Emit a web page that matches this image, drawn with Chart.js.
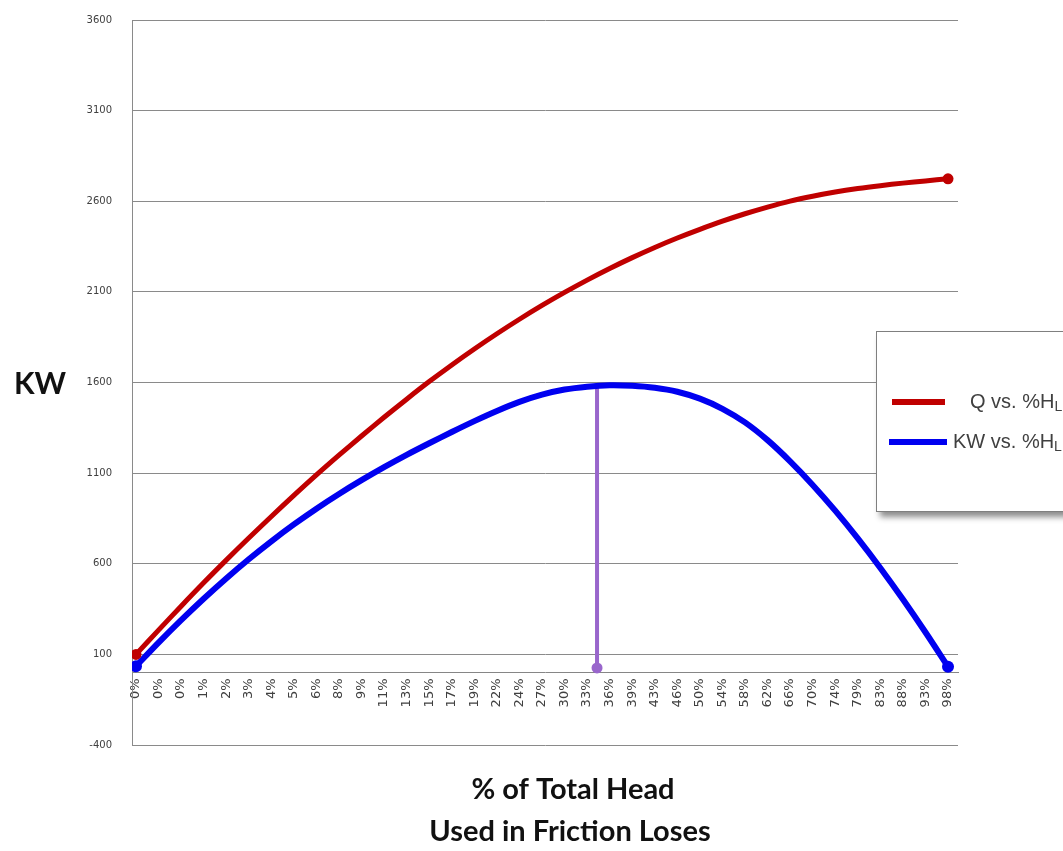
<!DOCTYPE html>
<html>
<head>
<meta charset="utf-8">
<script src="https://cdn.jsdelivr.net/npm/chart.js@4.4.1/dist/chart.umd.min.js"></script>
<style>
  html, body { margin: 0; padding: 0; background: #ffffff; }
  #wrap { width: 1063px; height: 851px; position: relative; }
</style>
</head>
<body>
<div id="wrap"><canvas id="pumpChart" width="1063" height="851"></canvas></div>
<script>
// Share of the total head lost to friction (category labels along the bottom)
const headLabels = ['0%','0%','0%','1%','2%','3%','4%','5%','6%','8%','9%','11%','13%','15%','17%','19%',
  '22%','24%','27%','30%','33%','36%','39%','43%','46%','50%','54%','58%','62%','66%','70%','74%',
  '79%','83%','88%','93%','98%'];

// Flow Q against %HL
const flowQ = [100, 234, 366, 495, 620, 742, 861, 977, 1090, 1199, 1305, 1408, 1508, 1605, 1697, 1785,
  1869, 1949, 2025, 2097, 2165, 2229, 2289, 2345, 2397, 2445, 2490, 2531, 2568, 2601, 2628, 2651,
  2670, 2686, 2700, 2712, 2724];

// Power KW against %HL
const powerKW = [35, 165, 289, 407, 519, 625, 724, 817, 904, 985, 1061, 1133, 1201, 1265, 1327, 1387,
  1443, 1493, 1533, 1561, 1577, 1585, 1582, 1571, 1549, 1511, 1455, 1380, 1282, 1165, 1035, 893,
  740, 577, 404, 222, 32];

// Marker dropped from the power peak to the axis
const peakMarkerX = [20.44, 20.44];
const peakMarkerY = [1585, 25];

// Value axis
const yMin = -400, yMax = 3600, yStep = 500;

const seriesNames = ['Q vs. %HL', 'KW vs. %HL'];

const endDots = (arr, r) => arr.map((_, i) => (i === 0 || i === arr.length - 1) ? r : 0);
const asPoints = arr => arr.map((v, i) => ({ x: i, y: v }));

const textPlugin = {
  id: 'chartText',
  afterDraw(chart) {
    const ctx = chart.ctx;
    ctx.save();
    // value axis caption
    ctx.fillStyle = '#111111';
    ctx.font = 'bold 30px Lato';
    ctx.textAlign = 'left';
    ctx.textBaseline = 'middle';
    ctx.fillText('KW', 14, 384);

    // category axis caption
    ctx.textAlign = 'center';
    ctx.font = 'bold 29px Lato';
    ctx.fillText('% of Total Head', 573, 790);
    ctx.fillText('Used in Friction Loses', 570, 832);

    // legend panel
    const bx = 876.5, by = 331.5, bw = 240, bh = 180;
    ctx.save();
    ctx.shadowColor = 'rgba(0,0,0,0.45)';
    ctx.shadowBlur = 6;
    ctx.shadowOffsetX = 3;
    ctx.shadowOffsetY = 5;
    ctx.fillStyle = '#ffffff';
    ctx.fillRect(bx, by, bw, bh);
    ctx.restore();
    ctx.strokeStyle = '#7f7f7f';
    ctx.lineWidth = 1;
    ctx.strokeRect(bx, by, bw, bh);

    const rows = [
      { y: 402, x0: 892, x1: 945, tx: 970 },
      { y: 442, x0: 889, x1: 947, tx: 953 }
    ];
    rows.forEach((row, i) => {
      const ds = chart.data.datasets[i];
      ctx.strokeStyle = ds.borderColor;
      ctx.lineWidth = 6;
      ctx.lineCap = 'butt';
      ctx.beginPath();
      ctx.moveTo(row.x0, row.y);
      ctx.lineTo(row.x1, row.y);
      ctx.stroke();

      const name = ds.label;
      const main = name.slice(0, -1), sub = name.slice(-1);
      ctx.fillStyle = '#404040';
      ctx.textAlign = 'left';
      ctx.textBaseline = 'middle';
      ctx.font = '20px "Liberation Sans"';
      ctx.fillText(main, row.tx, row.y);
      const w = ctx.measureText(main).width;
      ctx.font = '14px "Liberation Sans"';
      ctx.fillText(sub, row.tx + w, row.y + 5);
    });
    ctx.restore();
  }
};

new Chart(document.getElementById('pumpChart'), {
  type: 'line',
  data: {
    datasets: [
      {
        label: seriesNames[0],
        data: asPoints(flowQ),
        borderColor: '#C00000',
        backgroundColor: '#C00000',
        borderWidth: 5,
        pointRadius: endDots(flowQ, 5.5),
        pointBorderWidth: 0,
        tension: 0.3,
        fill: false
      },
      {
        label: seriesNames[1],
        data: asPoints(powerKW),
        borderColor: '#0000F0',
        backgroundColor: '#0000F0',
        borderWidth: 6,
        pointRadius: endDots(powerKW, 6),
        pointBorderWidth: 0,
        tension: 0.3,
        fill: false
      },
      {
        label: 'peak',
        data: peakMarkerX.map((x, i) => ({ x: x, y: peakMarkerY[i] })),
        borderColor: '#9966CC',
        backgroundColor: '#9966CC',
        borderWidth: 4,
        pointRadius: [0, 5.5],
        pointBorderWidth: 0,
        fill: false
      }
    ]
  },
  options: {
    responsive: false,
    animation: false,
    layout: { padding: { left: 0, top: 20, right: 105, bottom: 106 } },
    plugins: {
      legend: { display: false },
      tooltip: { enabled: false },
      title: { display: false }
    },
    scales: {
      x: {
        type: 'linear',
        position: { y: 0 },
        min: -0.177,
        max: 36.443,
        afterBuildTicks: scale => { scale.ticks = headLabels.map((_, i) => ({ value: i })); },
        grid: { display: false, drawTicks: false },
        border: { color: '#868686', width: 1 },
        ticks: {
          autoSkip: false,
          minRotation: 90,
          maxRotation: 90,
          padding: 6,
          color: '#404040',
          font: { family: 'DejaVu Sans', size: 13 },
          callback: value => headLabels[value]
        }
      },
      y: {
        min: yMin,
        max: yMax,
        afterFit: scale => { scale.width = 132; },
        grid: { color: '#8a8a8a', lineWidth: 1, drawTicks: true, tickLength: 20, tickColor: 'rgba(0,0,0,0)' },
        border: { color: '#8a8a8a', width: 1 },
        ticks: {
          stepSize: yStep,
          padding: 0,
          color: '#404040',
          font: { family: 'DejaVu Sans', size: 10 },
          callback: value => String(value)
        }
      }
    }
  },
  plugins: [textPlugin]
});
</script>
</body>
</html>
